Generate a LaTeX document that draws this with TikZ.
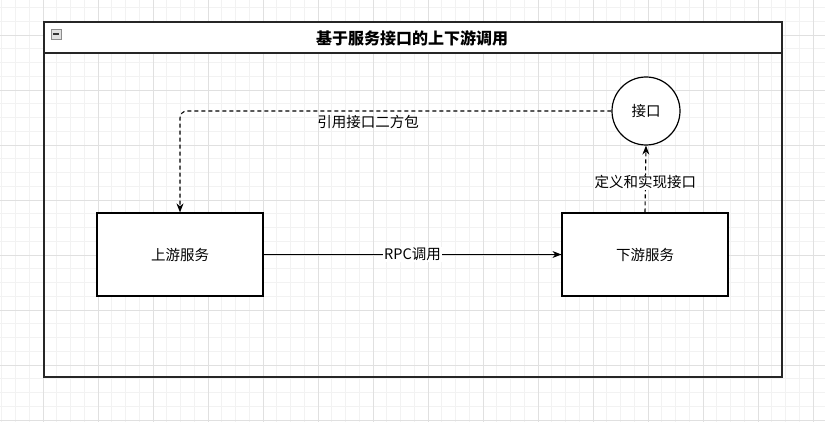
\documentclass[tikz,border=0pt]{standalone}
\usepackage{fontspec}
\setmainfont{Noto Sans CJK SC}
\usetikzlibrary{arrows.meta}
\begin{document}
\begin{tikzpicture}[x=1pt,y=-1pt,
  gridminor/.style={draw=black!5,line width=0.6pt},
  gridmajor/.style={draw=black!12,line width=0.8pt},
  container/.style={draw=black!85,line width=1.3pt},
  svcbox/.style={draw=black,fill=white,line width=1.2pt,minimum width=166pt,minimum height=83pt,inner sep=0pt,font=\fontsize{14.5}{17}\selectfont},
  ifcircle/.style={draw=black,fill=white,circle,line width=1.2pt,minimum size=68pt,inner sep=0pt,font=\fontsize{14.5}{17}\selectfont},
  solidarrow/.style={draw=black,line width=1pt,-{Stealth[length=9pt,width=7pt]}},
  dasharrow/.style={draw=black,line width=1.1pt,dash pattern=on 4pt off 3pt,-{Stealth[length=9pt,width=7pt]}},
  elabel/.style={fill=white,inner sep=1pt,font=\fontsize{14.5}{17}\selectfont},
  plainlabel/.style={inner sep=1pt,font=\fontsize{14.5}{17}\selectfont}
]
\useasboundingbox (0,0) rectangle (825,422);
\fill[white] (0,0) rectangle (825,422);
% grid
\foreach \i in {0,...,60} {\draw[gridminor] ({1.75+13.75*\i},0) -- ++(0,422);}
\foreach \i in {0,...,31} {\draw[gridminor] (0,{7.5+13.75*\i}) -- ++(825,0);}
\foreach \i in {0,...,15} {\draw[gridmajor] ({43+55*\i},0) -- ++(0,422);}
\foreach \i in {0,...,7} {\draw[gridmajor] (0,{35+55*\i}) -- ++(825,0);}
% container
\filldraw[container,fill=white] (44,22) rectangle (782,53);
\draw[container] (44,53) -- (44,377) -- (782,377) -- (782,53);
\node[font=\fontsize{16}{19}\selectfont\bfseries] (title) at (412,38) {基于服务接口的上下游调用};
\node[draw=black!45,fill=black!12,line width=0.6pt,minimum size=10pt,inner sep=0pt] (collapse) at (56,34) {};
\draw[line width=1.4pt,black!80] ([xshift=-3pt]collapse.center) -- ([xshift=3pt]collapse.center);
% nodes
\node[svcbox] (up) at (180,254.5) {上游服务};
\node[svcbox] (down) at (645,254.5) {下游服务};
\node[ifcircle] (iface) at (646,111) {接口};
% connectors
\draw[solidarrow] (up.east) -- node[elabel] {RPC调用} (down.west);
\draw[dasharrow,rounded corners=7pt] (iface.west) -| (up.north);
\node[plainlabel] (reflabel) at (368,122) {引用接口二方包};
\draw[dasharrow] (down.north) -- node[elabel,pos=0.45] {定义和实现接口} (iface.south);
\end{tikzpicture}
\end{document}
